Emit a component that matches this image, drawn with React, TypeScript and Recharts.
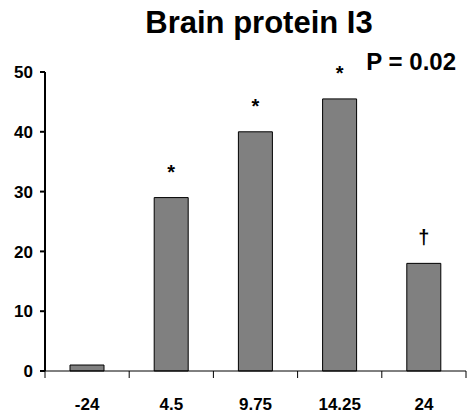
import React from 'react'
import { BarChart, Bar, XAxis, YAxis, LabelList } from 'recharts'

// hours after treatment
const times = ['-24', '4.5', '9.75', '14.25', '24']
const values = [1, 29, 40, 45.5, 18]
const marks = ['', '*', '*', '*', '†']
const yTicks = [0, 10, 20, 30, 40, 50]

const data = times.map((t, i) => ({ time: t, value: values[i], mark: marks[i] }))

const font = '"Liberation Sans", Arial, sans-serif'
const labelStyle = { fill: '#000', fontSize: 17, fontWeight: 'bold', fontFamily: font }

// y tick: short line to the left of the axis plus the number
const YTick = (props: any) => {
  const { x, y, payload } = props
  return (
    <g>
      <line x1={x - 5} y1={y} x2={x} y2={y} stroke="#000" strokeWidth={2} />
      <text x={x - 12} y={y} dy="0.36em" textAnchor="end" {...labelStyle}>
        {payload.value}
      </text>
    </g>
  )
}

// x tick: marks between the categories, label in the middle
const XTick = (props: any) => {
  const { x, y, payload, index, width, visibleTicksCount } = props
  const half = payload.offset || width / visibleTicksCount / 2
  const last = index === visibleTicksCount - 1
  return (
    <g>
      <line x1={x - half} y1={y} x2={x - half} y2={y + 7} stroke="#000" strokeWidth={1} />
      {last && <line x1={x + half} y1={y} x2={x + half} y2={y + 7} stroke="#000" strokeWidth={1} />}
      <text x={x} y={y + 27} dy="0.71em" textAnchor="middle" {...labelStyle}>
        {payload.value}
      </text>
    </g>
  )
}

const App: React.FC = () => {
  return (
    <div style={{ position: 'absolute', left: 0, top: 0, width: 469, height: 416 }}>
      <BarChart width={469} height={416} data={data} margin={{ top: 72, right: 3, bottom: 0, left: 0 }}>
        <XAxis
          dataKey="time"
          height={45}
          axisLine={{ stroke: '#000', strokeWidth: 1 }}
          tickLine={false}
          tickSize={0}
          tickMargin={0}
          tick={<XTick />}
          interval={0}
        />
        <YAxis
          type="number"
          domain={[0, 50]}
          ticks={yTicks}
          width={45}
          tickSize={0}
          tickMargin={0}
          axisLine={{ stroke: '#000', strokeWidth: 2 }}
          tickLine={false}
          tick={<YTick />}
        />
        <Bar
          dataKey="value"
          barSize={34}
          fill="#808080"
          stroke="#000"
          strokeWidth={1}
          isAnimationActive={false}
        >
          <LabelList
            dataKey="mark"
            position="top"
            offset={19}
            style={{ fill: '#000', fontSize: 20, fontWeight: 'bold', fontFamily: font }}
          />
        </Bar>
      </BarChart>
      <svg width={469} height={416} style={{ position: 'absolute', left: 0, top: 0, pointerEvents: 'none' }}>
        <text x={259} y={33} textAnchor="middle" fontSize={31} fontWeight="bold" fontFamily={font} fill="#000">
          Brain protein I3
        </text>
        <text x={456} y={70} textAnchor="end" fontSize={24} fontWeight="bold" fontFamily={font} fill="#000">
          P = 0.02
        </text>
      </svg>
    </div>
  )
}

export default App
